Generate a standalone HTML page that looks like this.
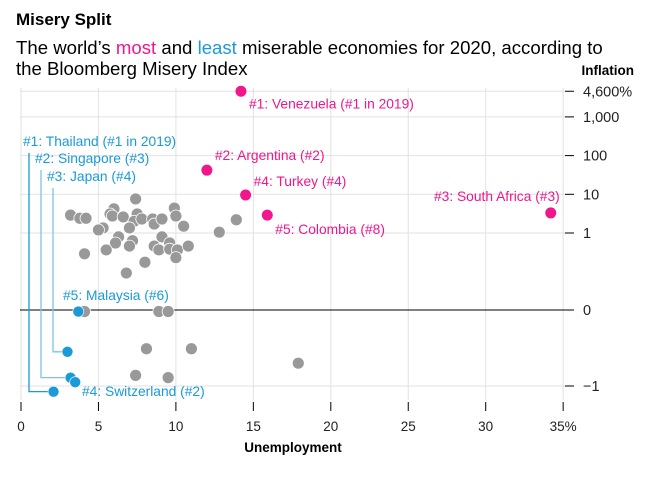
<!DOCTYPE html>
<html><head><meta charset="utf-8"><style>
body{margin:0;background:#fff;font-family:"Liberation Sans",sans-serif;}
svg text{font-family:"Liberation Sans",sans-serif;}
</style></head><body>
<svg id="chart" width="648" height="472" viewBox="0 0 648 472" xmlns="http://www.w3.org/2000/svg">
<text x="16" y="25" font-size="17" font-weight="bold" fill="#000">Misery Split</text>
<text x="16" y="54" font-size="18.6" fill="#000">The world’s <tspan fill="#f0168c">most</tspan> and <tspan fill="#1a9ad6">least</tspan> miserable economies for 2020, according to</text>
<text x="16" y="75" font-size="18.6" fill="#000">the Bloomberg Misery Index</text>
<text x="634" y="75" font-size="13.5" font-weight="bold" text-anchor="end">Inflation</text>
<text x="293" y="452" font-size="13.5" font-weight="bold" text-anchor="middle">Unemployment</text>
<g id="grid"></g><g id="leaders"></g><g id="marks"></g><g id="labels"></g>
</svg>
<script>
const xTicks=[0,5,10,15,20,25,30,35];
const xTickLabels=["0","5","10","15","20","25","30","35%"];
const yTicks=[4600,1000,100,10,1,0,-1];
const yTickLabels=["4,600%","1,000","100","10","1","0","\u22121"];
const grayX=[3.2,3.8,4.2,6.0,5.75,5.9,6.6,7.4,7.5,7.3,7.8,8.5,8.6,9.1,9.9,10.0,10.5,5.3,5.0,7.0,9.1,6.3,6.1,7.2,7.0,5.5,8.6,8.9,9.6,9.6,10.1,10.8,10.0,8.0,4.1,6.8,12.8,13.9,4.1,8.9,9.5,8.1,11.0,7.4,9.5,17.9];
const grayY=[2.9,2.4,2.4,4.2,3.1,2.75,2.6,7.6,3.1,2.0,2.3,2.3,1.7,2.3,4.4,2.75,1.5,1.35,1.2,1.35,0.95,0.95,0.87,0.9,0.83,0.78,0.83,0.78,0.87,0.79,0.78,0.83,0.68,0.62,0.73,0.48,1.05,2.2,-0.02,-0.02,-0.02,-0.51,-0.51,-0.86,-0.89,-0.7];
const mostNames=["#1: Venezuela (#1 in 2019)","#2: Argentina (#2)","#4: Turkey (#4)","#5: Colombia (#8)","#3: South Africa (#3)"];
const mostX=[14.2,12.0,14.5,15.9,34.2];
const mostY=[4600,42,9.6,2.9,3.3];
const leastNames=["#5: Malaysia (#6)","#3: Japan (#4)","#2: Singapore (#3)","#4: Switzerland (#2)","#1: Thailand (#1 in 2019)"];
const leastX=[3.7,3.0,3.2,3.5,2.1];
const leastY=[-0.02,-0.55,-0.89,-0.95,-1.4];

const NS="http://www.w3.org/2000/svg";
function xs(v){return 21+v*15.49;}
function ys(v){
  if(v>=1)return 233-38.7*Math.log10(v);
  if(v>-1)return 310-(v>=0?77:76)*v;
  return 386+38.7*Math.log10(-v);
}
function mk(tag,attrs,parent){const e=document.createElementNS(NS,tag);for(const k in attrs)e.setAttribute(k,attrs[k]);parent.appendChild(e);return e;}
const grid=document.getElementById('grid'),marks=document.getElementById('marks'),labels=document.getElementById('labels'),leaders=document.getElementById('leaders');
xTicks.forEach((t,i)=>{
  const gl=mk('line',{x1:xs(t),x2:xs(t),y1:88,y2:400,stroke:'#e2e2e2','stroke-width':1},grid);
  
  
  const tk=mk('line',{x1:xs(t),x2:xs(t),y1:402,y2:411,stroke:'#000','stroke-width':1},grid);
  
  
  const tl=mk('text',{x:xs(t),y:431,'font-size':13.5,'text-anchor':'middle',fill:'#222'},grid);
  tl.textContent=xTickLabels[i];
  
  
});
yTicks.forEach((t,i)=>{
  const y=ys(t);
  const gl=mk('line',{x1:20,x2:565,y1:y,y2:y,stroke:t===0?'#000':'#e2e2e2','stroke-width':1},grid);
  
  
  const tk=mk('line',{x1:565,x2:574,y1:y,y2:y,stroke:'#000','stroke-width':1},grid);
  
  
  const tl=mk('text',{x:583,y:y+5,'font-size':14.5,fill:'#222'},grid);
  tl.textContent=yTickLabels[i];
  
  
});
grayX.forEach((v,i)=>{
  const c=mk('circle',{cx:xs(v),cy:ys(grayY[i]),r:6,fill:'#999','stroke':'#fff','stroke-width':0.8},marks);
  
  
});
const mostLab=[[8,12,'start'],[8,-15,'start'],[8,-14,'start'],[8,14,'start'],[9,-17,'end']];
mostX.forEach((v,i)=>{
  const cx=xs(v),cy=ys(mostY[i]);
  const c=mk('circle',{cx:cx,cy:cy,r:5.5,fill:'#f0168c'},marks);
  
  
  const t=mk('text',{x:cx+mostLab[i][0],y:cy+mostLab[i][1]+5,'font-size':13.8,fill:'#f0168c','text-anchor':mostLab[i][2]},labels);
  t.textContent=mostNames[i];
  
  
});
const leadX=[null,53,41,null,29];
const labPos=[[63,300],[47,181],[35,163],[82,396],[23,146]];
leastX.forEach((v,i)=>{
  const cx=xs(v),cy=ys(leastY[i]);
  if(leadX[i]!==null){
    const p=mk('polyline',{points:`${leadX[i]},${labPos[i][1]+7} ${leadX[i]},${cy} ${cx},${cy}`,fill:'none',stroke:i===4?'#1a9ad6':'#7cc3e6','stroke-width':1.3},leaders);
    
    
  }
  const c=mk('circle',{cx:cx,cy:cy,r:5.5,fill:'#1a9ad6','stroke':'#fff','stroke-width':0.6},marks);
  
  
  const t=mk('text',{x:labPos[i][0],y:labPos[i][1],'font-size':13.8,fill:'#1a9ad6'},labels);
  t.textContent=leastNames[i];
  
  
});
</script>
</body></html>
